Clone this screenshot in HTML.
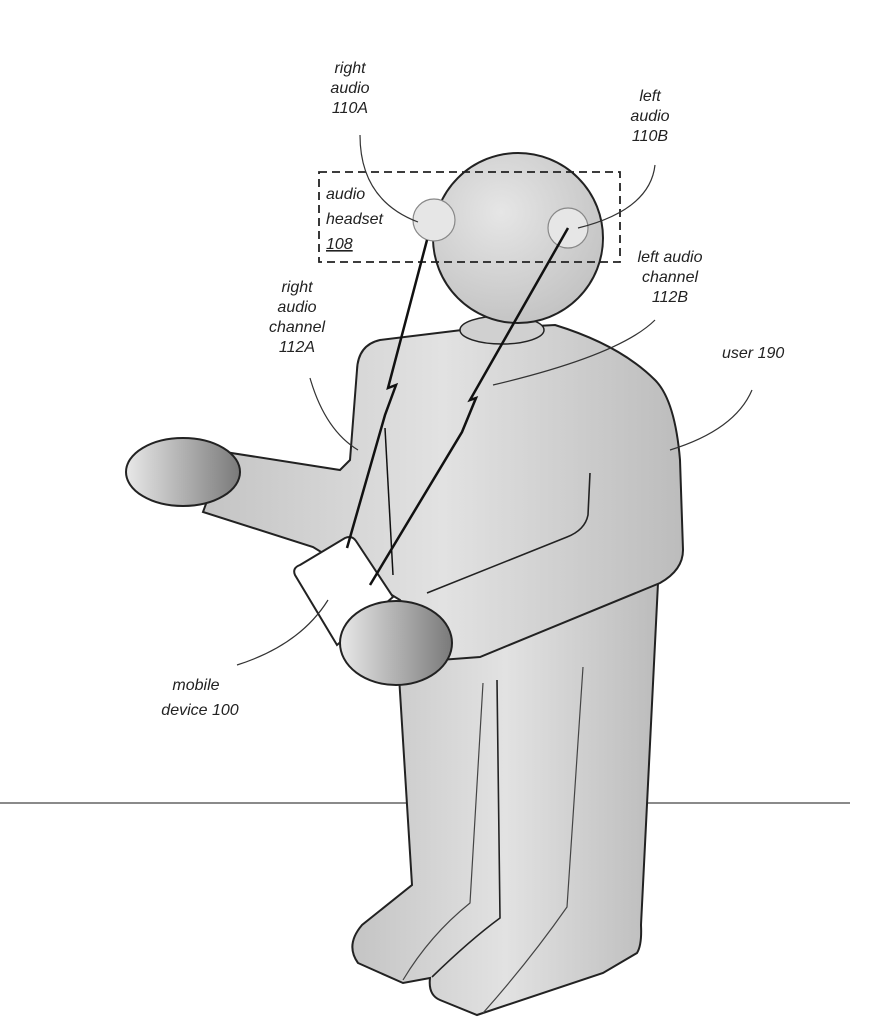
<!DOCTYPE html>
<html><head><meta charset="utf-8"><style>
html,body{margin:0;padding:0;background:#fff;width:893px;height:1024px;overflow:hidden}
svg{display:block}
text{font-family:"Liberation Sans",sans-serif;font-style:italic;font-size:16px;fill:#222}
</style></head><body>
<svg width="893" height="1024" viewBox="0 0 893 1024">
<defs>
<linearGradient id="bg" x1="0" y1="0" x2="1" y2="0">
<stop offset="0" stop-color="#c4c4c4"/><stop offset="0.5" stop-color="#e2e2e2"/><stop offset="1" stop-color="#bcbcbc"/></linearGradient>
<radialGradient id="hd" cx="0.4" cy="0.35" r="0.7"><stop offset="0" stop-color="#e6e6e6"/><stop offset="1" stop-color="#c2c2c2"/></radialGradient>
<linearGradient id="hn" x1="0" y1="0" x2="1" y2="0"><stop offset="0" stop-color="#e8e8e8"/><stop offset="1" stop-color="#7a7a7a"/></linearGradient>
</defs>
<line x1="0" y1="803" x2="850" y2="803" stroke="#444" stroke-width="1.2"/>
<!-- legs -->
<path d="M398,660 L412,885 L362,925 Q345,945 358,963 L403,983 L430,978 Q428,995 440,1000 L477,1015 L603,973 L637,953 Q642,945 641,925 L658,583 Z" fill="url(#bg)" stroke="#222" stroke-width="2"/>
<path d="M483,683 L470,903 Q430,935 403,980" fill="none" stroke="#444" stroke-width="1.2"/>
<path d="M497,680 L500,918 Q470,940 432,977" fill="none" stroke="#222" stroke-width="1.6"/>
<path d="M583,667 L567,907 Q530,960 483,1013" fill="none" stroke="#444" stroke-width="1.2"/>
<!-- torso -->
<path d="M462,330 L380,340 Q358,345 357,370 L350,460 L340,470 L225,452 L203,512 L313,547 L400,600 L440,660 L480,657 L660,583 Q683,570 683,550 L680,460 Q675,400 655,380 Q620,345 555,325 Z" fill="url(#bg)" stroke="#222" stroke-width="2"/>
<!-- right forearm top edge -->
<path d="M590,473 L588,515 Q585,530 567,537 L427,593" fill="none" stroke="#222" stroke-width="1.6"/>
<!-- neck -->
<ellipse cx="502" cy="330" rx="42" ry="14" fill="#d0d0d0" stroke="#222" stroke-width="1.5"/>
<!-- head -->
<circle cx="518" cy="238" r="85" fill="url(#hd)" stroke="#222" stroke-width="2"/>
<circle cx="434" cy="220" r="21" fill="#e6e6e6" stroke="#888" stroke-width="1.2"/>
<circle cx="568" cy="228" r="20" fill="#e6e6e6" stroke="#888" stroke-width="1.2"/>
<rect x="319" y="172" width="301" height="90" fill="none" stroke="#222" stroke-width="1.8" stroke-dasharray="8,5"/>
<!-- left hand -->
<ellipse cx="183" cy="472" rx="57" ry="34" fill="url(#hn)" stroke="#222" stroke-width="2"/>
<!-- phone -->
<path d="M300,565 L345,538 Q352,535 356,541 L393,597 L337,645 L295,575 Q292,568 300,565 Z" fill="#fff" stroke="#222" stroke-width="2"/>
<!-- right hand -->
<ellipse cx="396" cy="643" rx="56" ry="42" fill="url(#hn)" stroke="#222" stroke-width="2"/>
<!-- channels -->
<path d="M427,240 L388,388 L396,385 L385,415 L347,548" fill="none" stroke="#111" stroke-width="2.5"/>
<path d="M385,428 L393,575" fill="none" stroke="#111" stroke-width="1.5"/>
<path d="M568,228 L470,400 L476,398 L462,432 L370,585" fill="none" stroke="#111" stroke-width="2.5"/>
<!-- leader lines -->
<path d="M360,135 Q360,200 418,222" fill="none" stroke="#333" stroke-width="1.2"/>
<path d="M655,165 Q650,210 578,228" fill="none" stroke="#333" stroke-width="1.2"/>
<path d="M655,320 Q620,355 493,385" fill="none" stroke="#333" stroke-width="1.2"/>
<path d="M310,378 Q325,430 358,450" fill="none" stroke="#333" stroke-width="1.2"/>
<path d="M752,390 Q735,430 670,450" fill="none" stroke="#333" stroke-width="1.2"/>
<path d="M237,665 Q300,645 328,600" fill="none" stroke="#333" stroke-width="1.2"/>
<!-- labels -->
<text x="350" y="73" text-anchor="middle">right</text>
<text x="350" y="93" text-anchor="middle">audio</text>
<text x="350" y="113" text-anchor="middle">110A</text>
<text x="650" y="101" text-anchor="middle">left</text>
<text x="650" y="121" text-anchor="middle">audio</text>
<text x="650" y="141" text-anchor="middle">110B</text>
<text x="326" y="199">audio</text>
<text x="326" y="224">headset</text>
<text x="326" y="249" text-decoration="underline">108</text>
<text x="670" y="262" text-anchor="middle">left audio</text>
<text x="670" y="282" text-anchor="middle">channel</text>
<text x="670" y="302" text-anchor="middle">112B</text>
<text x="297" y="292" text-anchor="middle">right</text>
<text x="297" y="312" text-anchor="middle">audio</text>
<text x="297" y="332" text-anchor="middle">channel</text>
<text x="297" y="352" text-anchor="middle">112A</text>
<text x="722" y="358">user 190</text>
<text x="196" y="690" text-anchor="middle">mobile</text>
<text x="200" y="715" text-anchor="middle">device 100</text>
</svg>
</body></html>
